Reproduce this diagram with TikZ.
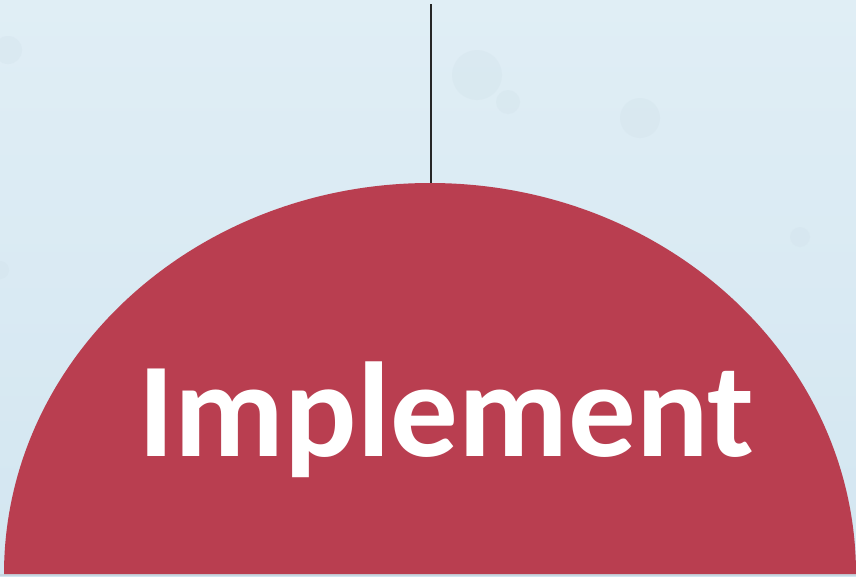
\documentclass[tikz,border=0pt]{standalone}
\usepackage{fontspec}
\setmainfont{Carlito}
\definecolor{bgtop}{HTML}{E0EEF5}
\definecolor{bgbot}{HTML}{D3E6F1}
\definecolor{dome}{HTML}{B93E50}
\definecolor{bubble}{HTML}{D2E2EB}
\begin{document}
\begin{tikzpicture}[x=1pt,y=-1pt,
  bubblestyle/.style={fill=bubble,opacity=0.35},
  labelstyle/.style={text=white,font=\fontsize{135}{135}\selectfont\bfseries,inner sep=0pt,anchor=base}]
\useasboundingbox (0,0) rectangle (856,576);
\shade[top color=bgtop,bottom color=bgbot] (0,0) rectangle (856,576);
% faint bubbles
\fill[bubblestyle] (477,75) circle (25);
\fill[bubblestyle] (508,102) circle (12);
\fill[bubblestyle] (640,118) circle (20);
\fill[bubblestyle] (800,237) circle (10);
\fill[bubblestyle] (0,270) circle (9);
\fill[bubblestyle] (8,50) circle (14);
% bottom line
\fill[bgbot!85!gray] (0,573.5) rectangle (856,576);
% dome
\fill[dome] (4,574) arc[start angle=180,end angle=360,x radius=426,y radius=391];
\coordinate (domeTop) at (431,183);
\coordinate (lineTop) at (431,4);
\draw[line width=1.6pt,black!85] (lineTop) -- (domeTop);
\node[labelstyle] (lbl) at (446.5,456) {Implement};
\end{tikzpicture}
\end{document}
